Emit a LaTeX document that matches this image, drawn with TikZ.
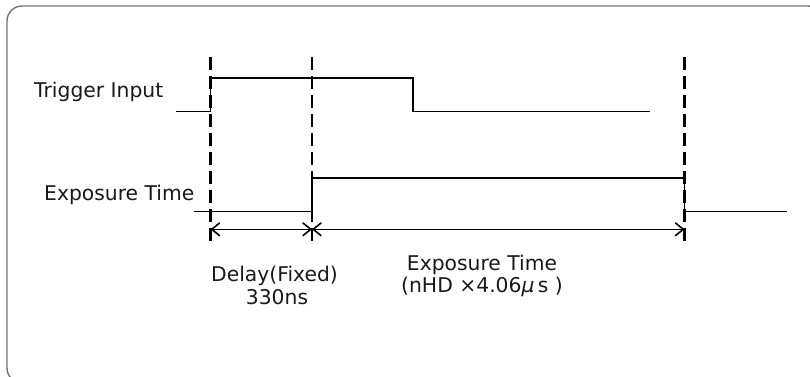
\documentclass[tikz,border=0pt]{standalone}
\usepackage{fontspec}
\setmainfont{DejaVu Sans}
\usetikzlibrary{arrows.meta}
\begin{document}
\begin{tikzpicture}[x=1pt,y=-1pt,
  signal/.style={line width=1.8pt,black,line join=miter},
  guide/.style={line width=2.2pt,black,dash pattern=on 13pt off 6pt},
  dim/.style={line width=1.6pt,black,{Straight Barb[length=8pt,width=13pt,line width=1.6pt]}-{Straight Barb[length=8pt,width=13pt,line width=1.6pt]}},
  lbl/.style={inner sep=0pt,text=black!90,font=\fontsize{20.3}{24}\selectfont},
  frame/.style={line width=1.4pt,black!55,rounded corners=15pt}]
\useasboundingbox (0,0) rectangle (810,376);
\clip (0,0) rectangle (810,376);
\draw[frame] (7,6) rectangle (823,383);
% guides
\foreach \n/\x in {g1/210.5,g2/312,g3/684.5}{
  \coordinate (\n t) at (\x,57);
  \coordinate (\n b) at (\x,245);
  \draw[guide] (\n t) -- (\n b);
}
% trigger
\draw[signal] (176,111.5) -- (210.5,111.5) -- (210.5,78) -- (413,78) -- (413,111.5) -- (650,111.5);
% exposure
\draw[signal] (194,211.5) -- (312,211.5) -- (312,178) -- (684.5,178) -- (684.5,211.5) -- (786.5,211.5);
% dimension arrows
\coordinate (a1) at (210.5,229.3);
\coordinate (a2) at (312,229.3);
\coordinate (a3) at (684.5,229.3);
\draw[dim] (a1) -- (a2);
\draw[dim] (a2) -- (a3);
% labels
\node[lbl,anchor=base west] (trig) at (34,97) {Trigger Input};
\node[lbl,anchor=base west] (expo) at (44,200) {Exposure Time};
\node[lbl,anchor=base] (delay1) at (274.5,281) {Delay(Fixed)};
\node[lbl,anchor=base] (delay2) at (277,304) {330ns};
\node[lbl,anchor=base] (exp1) at (482,270) {Exposure Time};
\node[lbl,anchor=base] (exp2) at (482,292.5) {(nHD ×4.06{\itshape μ}\,s )};
\end{tikzpicture}
\end{document}
